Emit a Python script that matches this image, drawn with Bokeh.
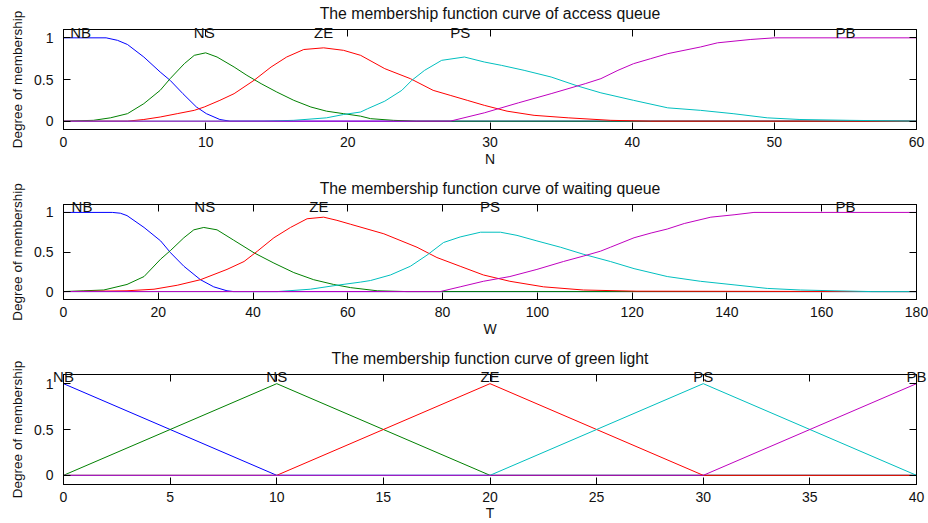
from bokeh.plotting import figure
from bokeh.models import (Range1d, LinearAxis, FixedTicker, NumeralTickFormatter)
from bokeh.layouts import column
from bokeh.embed import file_html
from bokeh.resources import INLINE

# ---------------- data ----------------
mf_names = ["NB", "NS", "ZE", "PS", "PB"]

# Panel 1: access queue N
n_nb_x = [0, 3.0, 3.8, 4.5, 5.65, 6.8, 7.5, 8.4, 9.35, 10.05, 11.0, 11.7, 60]
n_nb_y = [1, 1, 0.97, 0.92, 0.77, 0.59, 0.49, 0.33, 0.17, 0.09, 0.02, 0, 0]
n_ns_x = [0, 2.1, 3.3, 4.5, 5.65, 6.8, 7.5, 8.5, 9.2, 10.0, 10.8, 12.0, 12.9, 13.9, 15.0,
          16.2, 17.4, 18.5, 19.7, 20.9, 21.6, 23.2, 24.8, 60]
n_ns_y = [0, 0.01, 0.04, 0.09, 0.21, 0.37, 0.51, 0.69, 0.79, 0.82, 0.77, 0.65, 0.55, 0.45, 0.35,
          0.25, 0.17, 0.12, 0.09, 0.06, 0.03, 0.01, 0, 0]
n_ze_x = [0, 4.5, 5.65, 6.8, 8.0, 9.2, 9.9, 11.0, 12.0, 13.4, 14.6, 15.7, 16.9, 18.3, 19.7,
          20.9, 22.6, 24.4, 26.0, 27.2, 28.4, 29.6, 31.2, 33.1, 35.5, 38.5, 41.3, 60]
n_ze_y = [0, 0.0, 0.02, 0.05, 0.09, 0.13, 0.17, 0.25, 0.33, 0.49, 0.65, 0.77, 0.86, 0.88, 0.85,
          0.79, 0.63, 0.51, 0.37, 0.31, 0.25, 0.19, 0.12, 0.07, 0.04, 0.01, 0, 0]
n_ps_x = [0, 14.1, 16.2, 18.5, 19.7, 20.9, 21.4, 22.6, 23.8, 24.5, 25.4, 26.6, 28.2, 29.6,
          30.8, 32.4, 34.3, 36.2, 37.8, 40.1, 42.5, 44.8, 47.1, 49.5, 51.8, 55.3, 60]
n_ps_y = [0, 0, 0.01, 0.04, 0.08, 0.11, 0.15, 0.24, 0.37, 0.49, 0.61, 0.73, 0.77, 0.71,
          0.67, 0.61, 0.53, 0.42, 0.34, 0.25, 0.16, 0.13, 0.09, 0.04, 0.02, 0.01, 0]
n_pb_x = [0, 27.2, 29.6, 32.0, 34.3, 36.7, 37.8, 39.0, 40.1, 41.3, 42.5, 44.8, 46.0, 48.3, 50.0, 60]
n_pb_y = [0, 0, 0.10, 0.22, 0.33, 0.45, 0.51, 0.61, 0.69, 0.75, 0.81, 0.89, 0.94, 0.98, 1, 1]
n_label_x = [1.2, 9.9, 18.3, 27.9, 55.0]

# Panel 2: waiting queue W
w_nb_x = [0, 10.3, 12.0, 13.4, 17.0, 20.5, 22.6, 25.4, 28.9, 31.7, 34.5, 35.9, 180]
w_nb_y = [1, 1, 0.99, 0.96, 0.81, 0.64, 0.49, 0.32, 0.15, 0.06, 0.01, 0, 0]
w_ns_x = [0, 4.3, 8.5, 13.4, 17.0, 20.5, 22.6, 25.4, 27.5, 29.6, 32.4, 35.9, 40.2, 44.4,
          48.6, 52.8, 57.0, 60.6, 66.2, 72.5, 180]
w_ns_y = [0, 0.01, 0.02, 0.09, 0.19, 0.41, 0.52, 0.68, 0.78, 0.81, 0.78, 0.65, 0.49, 0.36,
          0.24, 0.15, 0.09, 0.05, 0.01, 0, 0]
w_ze_x = [0, 13.4, 19.1, 24.0, 28.9, 34.5, 38.1, 40.9, 44.4, 47.9, 51.4, 54.9, 57.7, 60.6,
          67.6, 74.6, 78.8, 83.7, 88.6, 94.2, 101.3, 109.7, 121, 180]
w_ze_y = [0, 0.01, 0.03, 0.08, 0.15, 0.28, 0.38, 0.51, 0.68, 0.81, 0.92, 0.94, 0.90, 0.85,
          0.73, 0.56, 0.43, 0.32, 0.21, 0.13, 0.06, 0.02, 0.005, 0]
w_ps_x = [0, 45.1, 52.1, 57.7, 62.7, 64.8, 69.0, 73.2, 76.7, 80.2, 83.7, 88.0, 92.2, 95.7,
          99.9, 104.9, 109.8, 115.4, 120.4, 127.4, 134.4, 141.5, 148.5, 155.5, 162.6, 170.6, 180]
w_ps_y = [0, 0, 0.03, 0.08, 0.12, 0.14, 0.21, 0.32, 0.46, 0.62, 0.69, 0.75, 0.75, 0.71,
          0.64, 0.56, 0.47, 0.38, 0.29, 0.19, 0.13, 0.085, 0.04, 0.02, 0.01, 0, 0]
w_pb_x = [0, 79.5, 83.7, 88.6, 94.2, 99.9, 105.5, 109.8, 113.3, 115.4, 120.4, 124.0, 127.4,
          131.0, 136.6, 141.5, 145.7, 180]
w_pb_y = [0, 0, 0.06, 0.13, 0.19, 0.28, 0.38, 0.45, 0.51, 0.56, 0.68, 0.74, 0.79,
          0.86, 0.94, 0.97, 1, 1]
w_label_x = [3.9, 29.8, 53.9, 90.0, 165.0]

# Panel 3: green light T (triangular)
t_nb_x = [0, 10, 40]
t_nb_y = [1, 0, 0]
t_ns_x = [0, 10, 20, 40]
t_ns_y = [0, 1, 0, 0]
t_ze_x = [0, 10, 20, 30, 40]
t_ze_y = [0, 0, 1, 0, 0]
t_ps_x = [0, 20, 30, 40]
t_ps_y = [0, 0, 1, 0]
t_pb_x = [0, 30, 40]
t_pb_y = [0, 0, 1]
t_label_x = [0, 10, 20, 30, 40]

# ---------------- styling ----------------
FONT = "Liberation Sans"
COLORS = ["#0000ff", "#008000", "#ff0000", "#00bfbf", "#bf00bf"]
Y_TICKS = [0, 0.5, 1]
TXT = "#111111"


def make_panel(title, xlabel, xmax, xstep, curves, label_x, height, b_top, b_bottom,
               title_standoff, name_standoff, xlabel_standoff):
    p = figure(width=928, height=height, title=None, output_backend="svg",
               toolbar_location=None,
               x_range=Range1d(0, xmax), y_range=Range1d(-0.1, 1.1),
               min_border_left=63, min_border_right=12,
               min_border_top=b_top, min_border_bottom=b_bottom)
    p.xgrid.grid_line_color = None
    p.ygrid.grid_line_color = None
    p.outline_line_color = "black"
    p.outline_line_alpha = 1
    p.background_fill_color = "white"
    p.border_fill_color = "white"

    xt = FixedTicker(ticks=list(range(0, xmax + 1, xstep)))
    yt = FixedTicker(ticks=Y_TICKS)

    xa = p.xaxis[0]
    xa.ticker = xt
    xa.axis_label = xlabel
    ya = p.yaxis[0]
    ya.ticker = yt
    ya.formatter = NumeralTickFormatter(format="0.[0]")
    ya.axis_label = "Degree of membership"

    for ax in (xa, ya):
        ax.major_tick_in = 7
        ax.major_tick_out = 0
        ax.minor_tick_line_color = None
        ax.axis_line_color = "black"
        ax.major_tick_line_color = "black"
        ax.major_label_text_font = FONT
        ax.major_label_text_font_size = "14px"
        ax.major_label_text_color = TXT
        ax.axis_label_text_font = FONT
        ax.axis_label_text_font_style = "normal"
        ax.axis_label_text_color = TXT
    xa.major_label_standoff = 7
    xa.axis_label_standoff = xlabel_standoff
    xa.axis_label_text_font_size = "14px"
    ya.major_label_standoff = 10
    ya.axis_label_standoff = 6
    ya.axis_label_text_font_size = "13.5px"

    # mirrored ticks on top and right (no labels)
    top = LinearAxis(ticker=xt, major_tick_in=7, major_tick_out=0,
                     minor_tick_line_color=None, major_label_text_font_size="0px",
                     major_label_text_color=None,
                     major_label_standoff=0, axis_line_color="black")
    right = LinearAxis(ticker=yt, major_tick_in=7, major_tick_out=0,
                       minor_tick_line_color=None, major_label_text_font_size="0px",
                       major_label_text_color=None,
                       major_label_standoff=0, axis_line_color="black")
    p.add_layout(top, "above")
    p.add_layout(right, "right")

    # membership-function names, written by an unclipped top axis and pulled
    # down into the frame so that their baseline sits on y = 1; the same axis
    # carries the panel title as its axis label
    names = LinearAxis(ticker=FixedTicker(ticks=label_x),
                       major_label_overrides={lx: nm for lx, nm in zip(label_x, mf_names)},
                       major_tick_line_color=None, minor_tick_line_color=None,
                       major_tick_in=0, major_tick_out=0, axis_line_color=None,
                       major_label_standoff=name_standoff,
                       major_label_text_font=FONT, major_label_text_font_size="15px",
                       major_label_text_color=TXT,
                       axis_label=title, axis_label_standoff=title_standoff,
                       axis_label_text_font=FONT, axis_label_text_font_size="15.8px",
                       axis_label_text_font_style="normal", axis_label_text_color=TXT)
    p.add_layout(names, "above")

    for (cx, cy), col in zip(curves, COLORS):
        p.line(cx, cy, line_color=col, line_width=1)
    return p


p1 = make_panel("The membership function curve of access queue", "N", 60, 10,
                [(n_nb_x, n_nb_y), (n_ns_x, n_ns_y), (n_ze_x, n_ze_y),
                 (n_ps_x, n_ps_y), (n_pb_x, n_pb_y)], n_label_x, 172, 29, 43, -1, -11, 1)
p2 = make_panel("The membership function curve of waiting queue", "W", 180, 20,
                [(w_nb_x, w_nb_y), (w_ns_x, w_ns_y), (w_ze_x, w_ze_y),
                 (w_ps_x, w_ps_y), (w_pb_x, w_pb_y)], w_label_x, 170, 32, 43, -2, -10, 1)
p3 = make_panel("The membership function curve of green light", "T", 40, 5,
                [(t_nb_x, t_nb_y), (t_ns_x, t_ns_y), (t_ze_x, t_ze_y),
                 (t_ps_x, t_ps_y), (t_pb_x, t_pb_y)], t_label_x, 181, 32, 37, -2, -10, 0)

layout = column(p1, p2, p3, spacing=0)
open("out.html", "w").write(file_html(layout, INLINE))
